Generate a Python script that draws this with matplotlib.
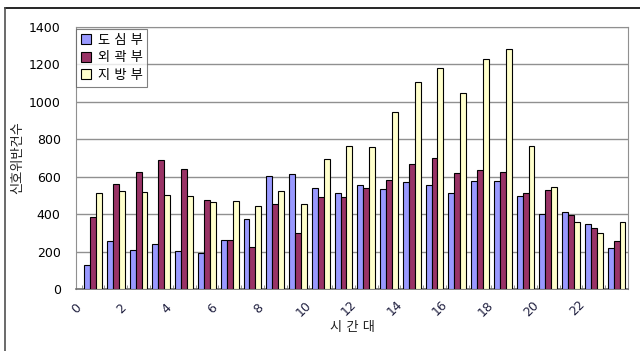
import matplotlib
matplotlib.use('Agg')
import matplotlib.pyplot as plt
from matplotlib.lines import Line2D
import numpy as np

plt.rcParams['font.family'] = ['DejaVu Sans', 'Noto Sans CJK KR']

# 시간대별 신호위반건수
hours = np.arange(24)
dosim = [128, 257, 209, 241, 204, 193, 264, 375, 603, 612, 541, 512,
         557, 534, 571, 557, 514, 577, 577, 498, 400, 413, 348, 220]
oegwak = [384, 562, 627, 689, 641, 475, 263, 227, 452, 298, 491, 491,
          539, 584, 670, 700, 619, 634, 627, 511, 527, 398, 325, 257]
jibang = [514, 523, 518, 504, 498, 466, 469, 446, 523, 455, 697, 766,
          757, 945, 1104, 1182, 1045, 1230, 1282, 762, 546, 357, 298, 357]
series_names = ['도 심 부', '외 곽 부', '지 방 부']
colors = ['#9999FF', '#993366', '#FFFFCC']
yticks = [0, 200, 400, 600, 800, 1000, 1200, 1400]
xtick_hours = hours[::2]

fig = plt.figure(figsize=(6.4, 3.51), dpi=100)
ax = fig.add_axes([76/640, 1 - 289/351, 552/640, 262/351])

w = 0.26
for i, (vals, name, c) in enumerate(zip([dosim, oegwak, jibang], series_names, colors)):
    ax.bar(hours + (i - 1) * w, vals, width=w, color=c, edgecolor='black',
           linewidth=0.8, label=name, zorder=3)

ax.set_xlim(-0.5, 23.5)
ax.set_ylim(0, 1400)
ax.set_yticks(yticks)
ax.set_yticklabels([str(v) for v in yticks], fontsize=9)
ax.tick_params(axis='y', length=0, pad=11)
ax.grid(axis='y', color='#909090', linewidth=1.0, zorder=0)

# category boundaries as small inward ticks, labels on every second hour
ax.set_xticks(np.arange(25) - 0.5, minor=True)
ax.tick_params(axis='x', which='minor', direction='in', length=3, color='#808080')
ax.set_xticks(xtick_hours - 0.75)
ax.set_xticklabels([str(h) for h in xtick_hours], rotation=45, fontsize=9,
                   ha='center', va='center', color='#202040')
ax.tick_params(axis='x', which='major', length=0, pad=14)

for s in ['top', 'right', 'left']:
    ax.spines[s].set_color('#909090')
ax.spines['bottom'].set_color('#707070')
ax.spines['bottom'].set_linewidth(1.2)

ax.set_ylabel('신호위반건수', fontsize=9.5, labelpad=3, color='#202020')
ax.set_xlabel('시 간 대', fontsize=9.5, labelpad=2, color='#202020')

leg = ax.legend(loc='upper left', bbox_to_anchor=(0, 0.992), fontsize=9.5,
                frameon=True, fancybox=False, edgecolor='#606060',
                borderaxespad=0, handlelength=0.8, handleheight=0.8,
                handletextpad=0.5, labelspacing=0.35, borderpad=0.35)
leg.get_frame().set_linewidth(0.8)
leg.set_zorder(5)

# outer chart frame (top and left edges visible)
fig.add_artist(Line2D([5/640, 1], [1 - 8/351, 1 - 8/351], color='black', linewidth=1.2))
fig.add_artist(Line2D([5/640, 5/640], [0, 1 - 8/351], color='#505050', linewidth=1.2))

fig.savefig('out.png', dpi=100)
